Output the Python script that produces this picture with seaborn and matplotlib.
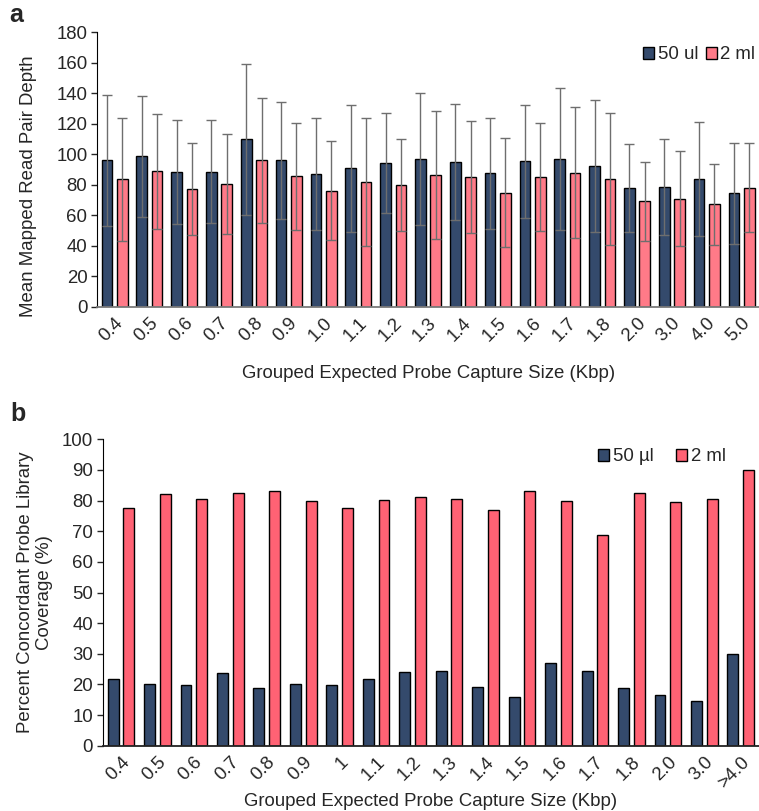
import pandas as pd
import numpy as np
import matplotlib.pyplot as plt
import seaborn as sns

# panel a: mean mapped read pair depth (+/- sd)
sizes_a = ['0.4', '0.5', '0.6', '0.7', '0.8', '0.9', '1.0', '1.1', '1.2', '1.3',
           '1.4', '1.5', '1.6', '1.7', '1.8', '2.0', '3.0', '4.0', '5.0']
depth_50ul = [96.0, 98.6, 88.6, 88.6, 110.0, 96.0, 87.2, 90.8, 94.2, 96.9,
              94.9, 87.5, 95.4, 97.1, 92.5, 78.1, 78.5, 83.6, 74.4]
sd_50ul = [43.2, 39.9, 34.2, 33.8, 49.5, 38.4, 36.5, 41.6, 32.8, 43.4,
           38.1, 36.6, 37.0, 46.4, 43.2, 28.8, 31.5, 37.3, 32.9]
depth_2ml = [83.8, 89.0, 77.4, 80.5, 96.0, 85.5, 76.1, 82.0, 80.0, 86.6,
             85.1, 74.8, 85.1, 88.1, 84.0, 69.2, 70.9, 67.4, 78.1]
sd_2ml = [40.3, 37.7, 30.1, 32.9, 41.0, 35.1, 32.5, 42.1, 30.2, 41.9,
          36.8, 35.6, 35.3, 42.8, 43.4, 25.7, 31.2, 26.6, 29.2]

# panel b: percent concordant probe library coverage
sizes_b = ['0.4', '0.5', '0.6', '0.7', '0.8', '0.9', '1', '1.1', '1.2', '1.3',
           '1.4', '1.5', '1.6', '1.7', '1.8', '2.0', '3.0', '>4.0']
cov_50ul = [21.7, 20.3, 19.7, 23.8, 18.9, 20.0, 19.8, 21.8, 23.9, 24.5,
            19.0, 15.9, 27.1, 24.5, 18.8, 16.6, 14.7, 30.0]
cov_2ml = [77.6, 82.2, 80.4, 82.6, 83.0, 79.8, 77.6, 80.3, 81.3, 80.4,
           77.0, 83.2, 80.0, 68.9, 82.4, 79.7, 80.4, 90.0]

navy = '#344a6c'
pink_a = '#ff7a88'
pink_b = '#ff6274'

sns.set_style('white')
plt.rcParams['font.family'] = ['Liberation Sans', 'DejaVu Sans']
fs = 13.4

fig = plt.figure(figsize=(7.59, 8.11), dpi=100)
ax1 = fig.add_axes([0.128, 0.6215, 0.872, 0.3387])
ax2 = fig.add_axes([0.1353, 0.0805, 0.8647, 0.3778])

# ---- panel a
df_a = pd.DataFrame({
    'size': sizes_a * 2,
    'depth': depth_50ul + depth_2ml,
    'sd': sd_50ul + sd_2ml,
    'vol': ['50 ul'] * len(sizes_a) + ['2 ml'] * len(sizes_a),
})
sns.barplot(data=df_a, x='size', y='depth', hue='vol', ax=ax1,
            palette=[navy, pink_a], width=0.88, gap=0.3,
            edgecolor='black', linewidth=1, saturation=1, errorbar=None)
for cont, sds in zip(ax1.containers, [sd_50ul, sd_2ml]):
    xs = [p.get_x() + p.get_width() / 2 for p in cont.patches]
    ys = [p.get_height() for p in cont.patches]
    ax1.errorbar(xs, ys, yerr=sds, fmt='none', ecolor='#6e6e6e',
                 elinewidth=1, capsize=3.5, capthick=1, zorder=5)
ax1.set_ylim(0, 180)
ax1.set_yticks(np.arange(0, 181, 20))
ax1.set_xlim(-0.5, len(sizes_a) - 0.5)
ax1.set_ylabel('Mean Mapped Read Pair Depth', fontsize=fs)
ax1.yaxis.set_label_coords(-0.091, 0.44)
ax1.set_xlabel('Grouped Expected Probe Capture Size (Kbp)', fontsize=fs, labelpad=14)
sns.move_legend(ax1, 'upper right', bbox_to_anchor=(1.02, 1.01), ncol=2,
                frameon=False, title=None, handlelength=0.6, handleheight=0.6,
                handletextpad=0.2, columnspacing=0.4, fontsize=fs)

# ---- panel b
df_b = pd.DataFrame({
    'size': sizes_b * 2,
    'cov': cov_50ul + cov_2ml,
    'vol': ['50 \u00b5l'] * len(sizes_b) + ['2 ml'] * len(sizes_b),
})
sns.barplot(data=df_b, x='size', y='cov', hue='vol', ax=ax2,
            palette=[navy, pink_b], width=0.86, gap=0.3,
            edgecolor='black', linewidth=1, saturation=1, errorbar=None)
ax2.set_ylim(0, 100)
ax2.set_yticks(np.arange(0, 101, 10))
ax2.set_xlim(-0.5, len(sizes_b) - 0.5)
ax2.set_ylabel('Percent Concordant Probe Library\nCoverage (%)', fontsize=fs)
ax2.yaxis.set_label_coords(-0.075, 0.5)
ax2.set_xlabel('Grouped Expected Probe Capture Size (Kbp)', fontsize=fs, labelpad=1)
sns.move_legend(ax2, 'upper right', bbox_to_anchor=(0.975, 1.025), ncol=2,
                frameon=False, title=None, handlelength=0.6, handleheight=0.6,
                handletextpad=0.2, columnspacing=1.2, fontsize=fs)

for ax, bcol in [(ax1, '#7a7a7a'), (ax2, '#222222')]:
    sns.despine(ax=ax)
    ax.spines['left'].set_color('black')
    ax.spines['bottom'].set_color(bcol)
    ax.spines['bottom'].set_linewidth(1.3)
    ax.tick_params(axis='y', left=True, length=4, width=1, labelsize=fs, pad=3)
    ax.tick_params(axis='x', bottom=False, labelsize=fs, pad=2)
    plt.setp(ax.get_xticklabels(), rotation=45, ha='right', rotation_mode='anchor')

fig.text(0.012, 0.973, 'a', fontsize=18, fontweight='bold')
fig.text(0.014, 0.481, 'b', fontsize=18, fontweight='bold')

fig.savefig('out.png', dpi=100)
